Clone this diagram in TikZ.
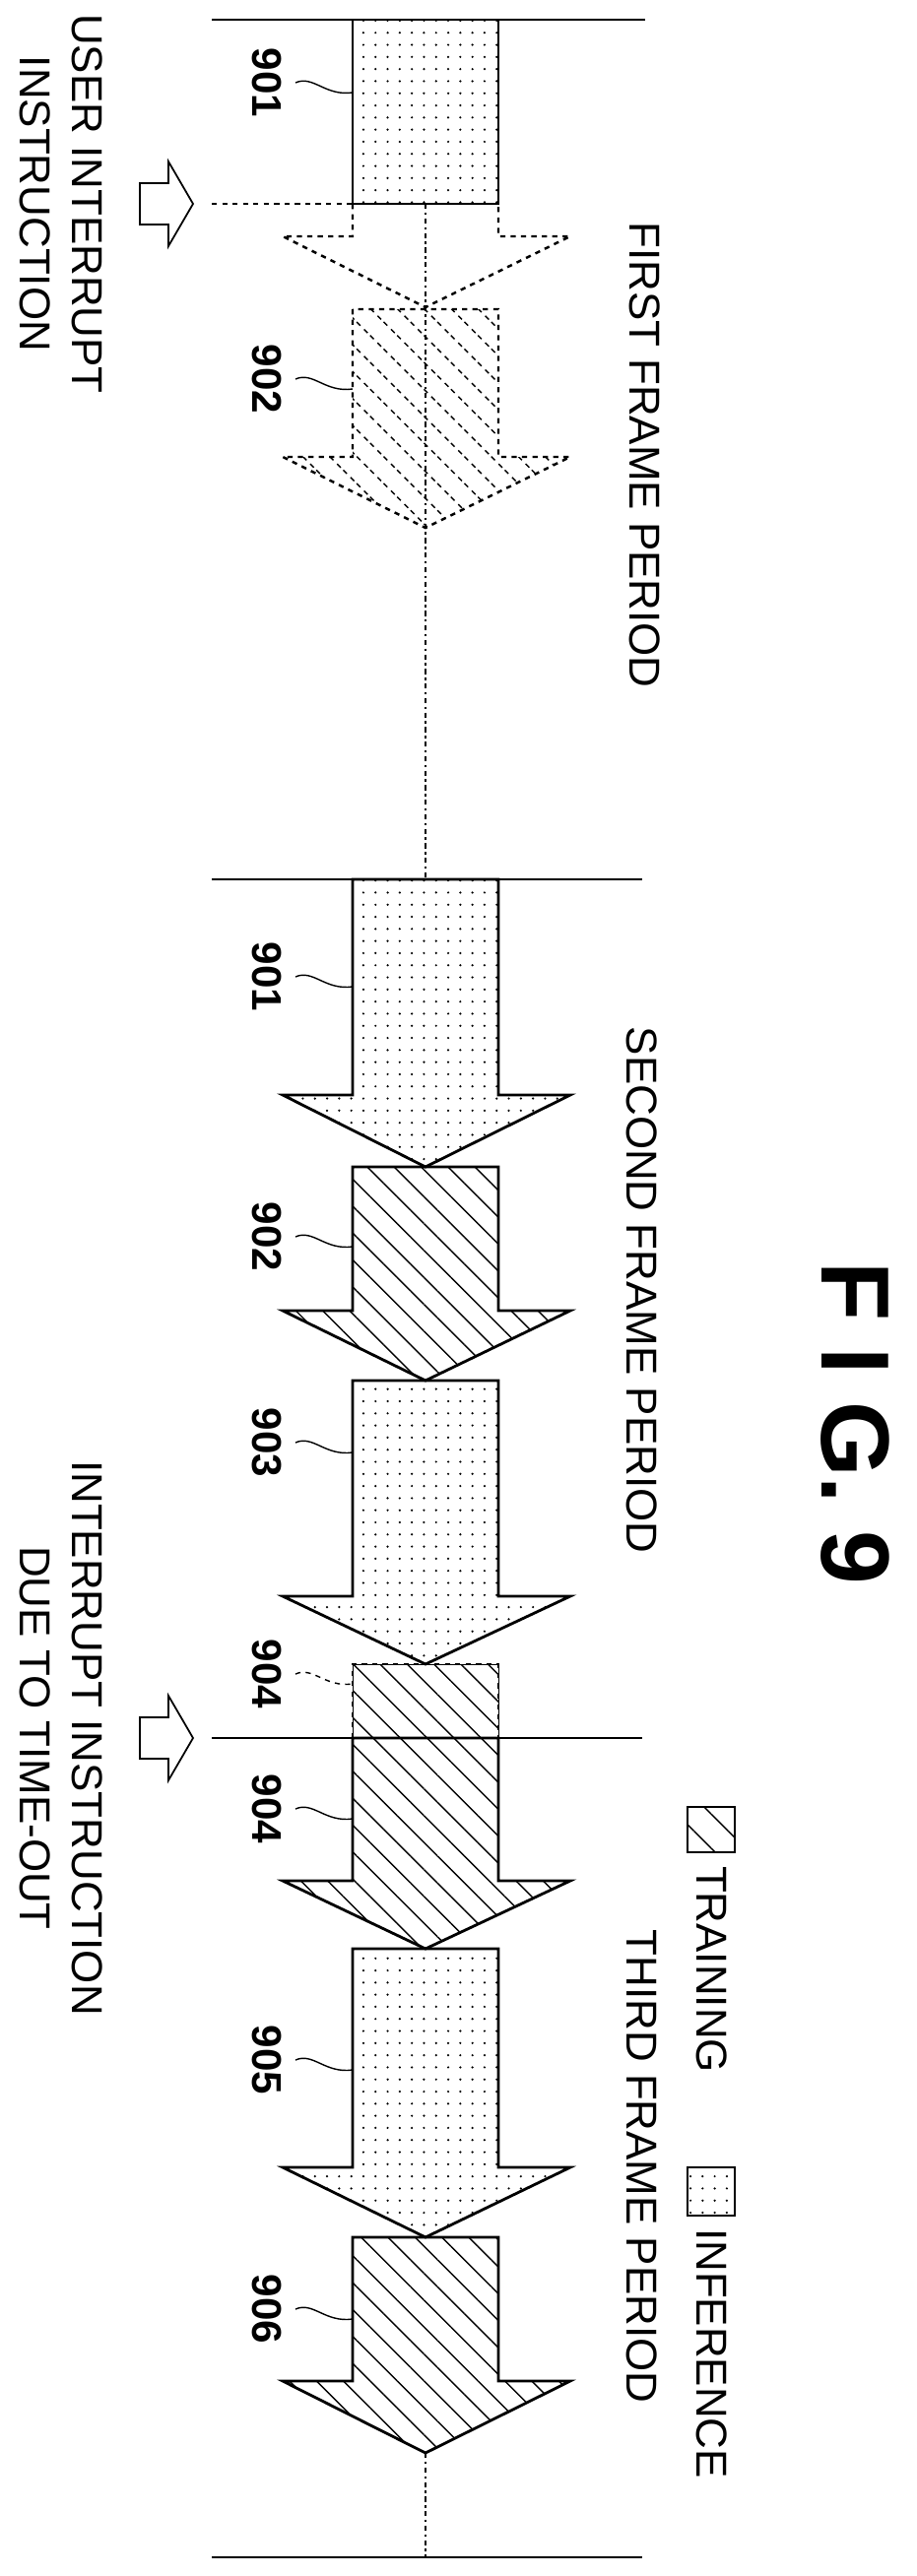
\documentclass[tikz,border=0pt]{standalone}
\usepackage{fontspec}
\setmainfont{Liberation Sans}
\usepackage{tikz}
\usetikzlibrary{patterns.meta}

% stroke and fill styles
\tikzset{
  infer/.style={pattern={Dots[distance=7pt,radius=0.7pt]}},
  train/.style={pattern={Lines[angle=-45,distance=11pt,line width=0.8pt]}},
  edge/.style={line width=1.6pt},
  ghost/.style={line width=1.4pt,dashed},
  rotlabel/.style={rotate=-90,font=\fontsize{25}{30}\selectfont,align=center},
  refnum/.style={rotate=-90,font=\bfseries\fontsize{24}{28}\selectfont},
  hollow/.style={line width=1pt,fill=white}
}

% arrow block: top y, shoulder y, tip y
\newcommand{\blockarrow}[4]{%
  \draw[#4] (358,#1) -- (358,#2) -- (287,#2) -- (432,#3) -- (579,#2) -- (506,#2) -- (506,#1) -- cycle;}
% label with leader
\newcommand{\refmark}[3]{%
  \node[refnum] (#1) at (271,#2) {#3};
  \draw[line width=0.8pt] (300,#2) .. controls (318,#2-8) and (330,#2+14) .. (358,#2+10);}
% hollow arrow pointing right
\newcommand{\hollowarrow}[1]{%
  \draw[hollow] (142,#1-21) -- (171,#1-21) -- (171,#1-43) -- (196,#1) -- (171,#1+43) -- (171,#1+21) -- (142,#1+21) -- cycle;}

\begin{document}
\begin{tikzpicture}[x=0.02cm,y=-0.02cm]
    \useasboundingbox (0,0) rectangle (930,2616);

    % first frame
    \draw[line width=1pt] (215,20) -- (655,20);
    \draw[edge,infer] (358,20) rectangle (506,207);
    \draw[ghost] (215,207) -- (358,207);
    \draw[ghost] (358,207) -- (358,240) -- (287,240) -- (432,312) -- (579,240) -- (506,240) -- (506,207);
    \draw[ghost,train] (358,314) -- (358,464) -- (287,464) -- (432,536) -- (579,464) -- (506,464) -- (506,314) -- cycle;
    \draw[line width=1.4pt,dash dot] (432,207) -- (432,893);
    \refmark{n901a}{84}{901}
    \refmark{n902a}{385}{902}
    \hollowarrow{207}
    \node[rotlabel] (userint) at (62,207) {USER INTERRUPT\\INSTRUCTION};
    \node[rotlabel] (first) at (655,462) {FIRST FRAME PERIOD};

    % second frame
    \draw[line width=1pt] (215,893) -- (652,893);
    \blockarrow{893}{1112}{1185}{edge,infer}
    \blockarrow{1185}{1331}{1402}{edge,train}
    \blockarrow{1402}{1621}{1690}{edge,infer}
    \refmark{n901b}{992}{901}
    \refmark{n902b}{1256}{902}
    \refmark{n903}{1465}{903}
    \node[rotlabel] (second) at (652,1310) {SECOND FRAME PERIOD};

    % third frame
    \draw[train] (358,1690) rectangle (506,1765);
    \draw[ghost] (358,1765) -- (358,1690) -- (506,1690) -- (506,1765);
    \blockarrow{1765}{1910}{1979}{edge,train}
    \draw[line width=1pt] (215,1765) -- (652,1765);
    \blockarrow{1979}{2201}{2272}{edge,infer}
    \blockarrow{2272}{2418}{2491}{edge,train}
    \draw[line width=1.4pt,dash dot] (432,2491) -- (432,2597);
    \draw[line width=1pt] (215,2597) -- (652,2597);
    \node[refnum] (n904a) at (271,1700) {904};
    \draw[line width=0.8pt,dashed] (300,1700) .. controls (318,1692) and (330,1714) .. (358,1710);
    \refmark{n904b}{1837}{904}
    \refmark{n905}{2092}{905}
    \refmark{n906}{2345}{906}
    \hollowarrow{1765}
    \node[rotlabel] (timeout) at (62,1765) {INTERRUPT INSTRUCTION\\DUE TO TIME-OUT};
    \node[rotlabel] (third) at (652,2200) {THIRD FRAME PERIOD};

    % legend
    \draw[edge,pattern={Lines[angle=-45,distance=14pt,line width=0.8pt]}] (698,1835) rectangle (746,1881);
    \node[rotlabel] (training) at (723,2000) {TRAINING};
    \draw[edge,infer] (698,2201) rectangle (746,2250);
    \node[rotlabel] (inference) at (723,2390) {INFERENCE};

    % figure title
    \node[rotate=-90,font=\bfseries\fontsize{56}{60}\selectfont] (fig) at (868,1445) {F I G. 9};
\end{tikzpicture}
\end{document}
